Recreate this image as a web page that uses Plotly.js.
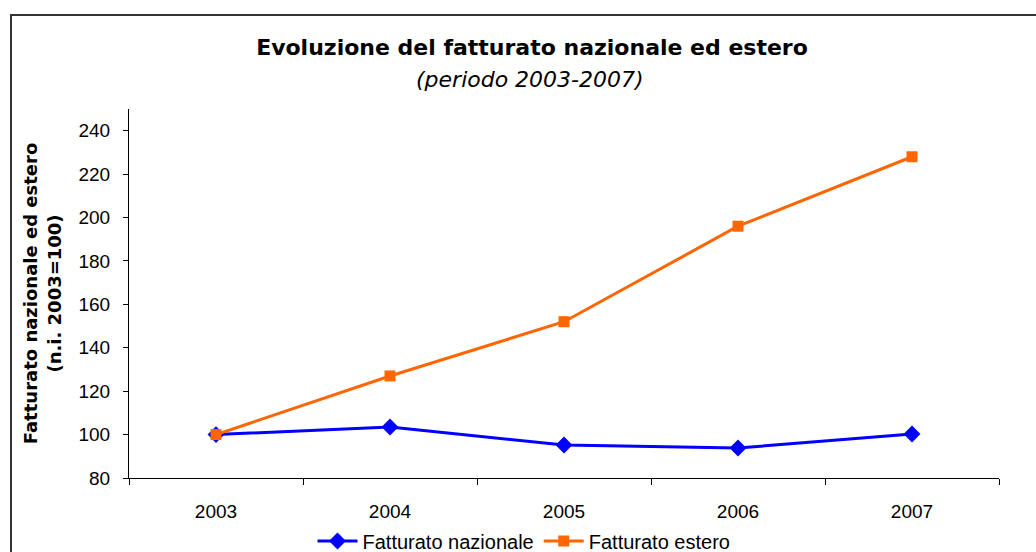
<!DOCTYPE html>
<html>
<head>
<meta charset="utf-8">
<script src="https://cdn.plot.ly/plotly-3.0.1.min.js"></script>
<style>
  html, body { margin: 0; padding: 0; width: 1036px; height: 552px; overflow: hidden; background: #fff; }
  #chart { width: 1036px; height: 552px; }
  #frame { position: absolute; left: 10px; top: 14px; width: 1100px; height: 700px;
           border: 2px solid #333; pointer-events: none; box-sizing: border-box; }
</style>
</head>
<body>
<div id="chart"></div>
<div id="frame"></div>
<script>
const years = ['2003', '2004', '2005', '2006', '2007'];
const fatturatoNazionale = [100, 103.5, 95.2, 93.8, 100.3];
const fatturatoEstero = [100, 127, 152, 196, 228];
const yTicks = [80, 100, 120, 140, 160, 180, 200, 220, 240];

const FONT = 'DejaVu Sans, Verdana, sans-serif';
const FONT2 = 'Liberation Sans, Arial, sans-serif';

const traces = [
  {
    x: years, y: fatturatoNazionale, name: 'Fatturato nazionale',
    type: 'scatter', mode: 'lines+markers',
    line: { color: '#0000FF', width: 3 },
    marker: { symbol: 'diamond', size: 13, color: '#0000FF' }
  },
  {
    x: years, y: fatturatoEstero, name: 'Fatturato estero',
    type: 'scatter', mode: 'lines+markers',
    line: { color: '#FF6600', width: 3 },
    marker: { symbol: 'square', size: 11, color: '#FF6600' }
  }
];

const layout = {
  width: 1036, height: 552,
  paper_bgcolor: '#fff', plot_bgcolor: '#fff',
  margin: { l: 129, r: 37, t: 109, b: 74, pad: 0, autoexpand: false },
  font: { family: FONT2, size: 19, color: '#000' },
  showlegend: true,
  title: {
    text: '<b>Evoluzione del fatturato nazionale ed estero</b>',
    font: { family: FONT, size: 22, color: '#000' },
    x: 532 / 1036, xref: 'container', xanchor: 'center',
    y: 1 - 47 / 552, yref: 'container', yanchor: 'middle'
  },
  annotations: [{
    text: '<i>(periodo 2003-2007)</i>',
    xref: 'paper', yref: 'paper',
    x: (530 - 129) / 870, y: 1 + (109 - 79) / 369,
    xanchor: 'center', yanchor: 'middle',
    showarrow: false,
    font: { family: FONT, size: 22, color: '#000' }
  }],
  xaxis: {
    type: 'category',
    range: [-0.5, 4.5],
    showgrid: false, zeroline: false,
    showline: true, linecolor: '#000', linewidth: 1,
    ticks: 'outside', ticklen: 6, tickcolor: '#000', tickwidth: 1,
    tickson: 'boundaries',
    ticklabelstandoff: 16,
    tickfont: { family: FONT2, size: 19, color: '#000' }
  },
  yaxis: {
    range: [80, 250],
    tickvals: yTicks,
    ticktext: yTicks.map(String),
    showgrid: false, zeroline: false,
    showline: true, linecolor: '#000', linewidth: 1,
    ticks: 'outside', ticklen: 5, tickcolor: '#000', tickwidth: 1,
    ticklabelstandoff: 9,
    tickfont: { family: FONT2, size: 19, color: '#000' },
    title: {
      text: '<b>Fatturato nazionale ed estero<br>(n.i. 2003=100)</b>',
      font: { family: FONT, size: 18, color: '#000' },
      standoff: 12
    }
  },
  legend: {
    orientation: 'h',
    xref: 'container', yref: 'container',
    x: 524 / 1036, xanchor: 'center',
    y: 1 - 541 / 552, yanchor: 'middle',
    font: { family: FONT2, size: 20, color: '#000' },
    bgcolor: 'rgba(0,0,0,0)',
    itemwidth: 40,
    tracegroupgap: 0
  }
};

Plotly.newPlot('chart', traces, layout, { displayModeBar: false, staticPlot: true });
</script>
</body>
</html>
